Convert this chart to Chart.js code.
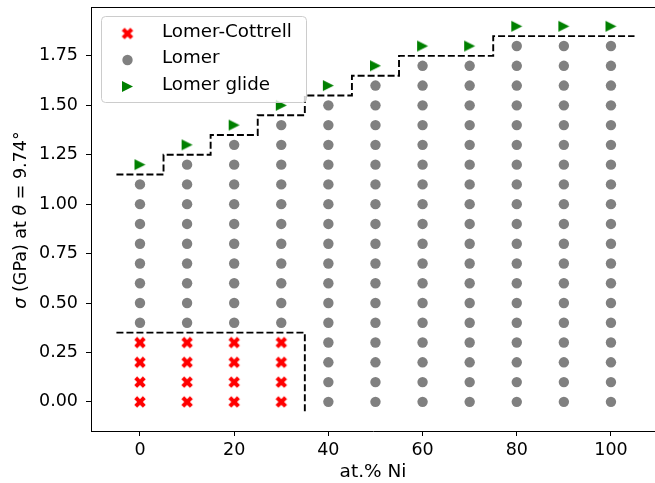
<!DOCTYPE html>
<html><head><meta charset="utf-8">
<script src="https://cdn.jsdelivr.net/npm/chart.js@4/dist/chart.umd.min.js"></script>
<style>html,body{margin:0;padding:0;background:#fff;overflow:hidden;}
#wrap{width:655px;height:483px;}
canvas{display:block;}
</style></head><body>
<div id="wrap"><canvas id="c" width="655" height="483"></canvas></div>
<script>
// ---- data ----
const niPct = [0, 10, 20, 30, 40, 50, 60, 70, 80, 90, 100];
const sigmaLevels = [0, 0.1, 0.2, 0.3, 0.4, 0.5, 0.6, 0.7, 0.8, 0.9, 1.0, 1.1, 1.2, 1.3, 1.4, 1.5, 1.6, 1.7, 1.8, 1.9];
const lcMax = [0.3, 0.3, 0.3, 0.3, null, null, null, null, null, null, null];
const lomerMin = [0.4, 0.4, 0.4, 0.4, 0, 0, 0, 0, 0, 0, 0];
const lomerMax = [1.1, 1.2, 1.3, 1.4, 1.5, 1.6, 1.7, 1.7, 1.8, 1.8, 1.8];
const glideSigma = [1.2, 1.3, 1.4, 1.5, 1.6, 1.7, 1.8, 1.8, 1.9, 1.9, 1.9];
const upperEdges = [-5, 5, 15, 25, 35, 45, 55, 75, 105];
const upperLevels = [1.15, 1.25, 1.35, 1.45, 1.55, 1.65, 1.75, 1.85];
const lowerX = [-5, 35, 35];
const lowerY = [0.35, 0.35, -0.05];
const xTicks = [0, 20, 40, 60, 80, 100];
const yTicks = [0, 0.25, 0.5, 0.75, 1.0, 1.25, 1.5, 1.75];
const seriesNames = ['Lomer-Cottrell', 'Lomer', 'Lomer glide'];

// ---- build points ----
const eps = 1e-9;
const lcPts = [], lomerPts = [], glidePts = [];
niPct.forEach((x, i) => {
  sigmaLevels.forEach(s => {
    if (lcMax[i] !== null && s <= lcMax[i] + eps) lcPts.push({x, y: s});
    if (s >= lomerMin[i] - eps && s <= lomerMax[i] + eps) lomerPts.push({x, y: s});
  });
  glidePts.push({x, y: glideSigma[i]});
});
const upperPts = [];
upperLevels.forEach((lv, i) => {
  upperPts.push({x: upperEdges[i], y: lv});
  upperPts.push({x: upperEdges[i + 1], y: lv});
});
const lowerPts = lowerX.map((x, i) => ({x, y: lowerY[i]}));

// ---- marker images ----
function makeMarker(kind, size, color) {
  const s = Math.ceil(size) + 2;
  const c = document.createElement('canvas');
  c.width = s; c.height = s;
  const g = c.getContext('2d');
  g.translate(s / 2, s / 2);
  const h = size / 2;
  let pts;
  if (kind === 'X') {
    pts = [[-0.5,-1],[0,-0.5],[0.5,-1],[1,-0.5],[0.5,0],[1,0.5],[0.5,1],[0,0.5],[-0.5,1],[-1,0.5],[-0.5,0],[-1,-0.5]];
  } else {
    pts = [[-1,-1],[1,0],[-1,1]];
  }
  g.beginPath();
  pts.forEach((p, i) => { if (i) g.lineTo(p[0]*h, p[1]*h); else g.moveTo(p[0]*h, p[1]*h); });
  g.closePath();
  g.fillStyle = color;
  g.fill();
  return c;
}
const xMarker = makeMarker('X', 11.5, '#ff0000');
const triMarker = makeMarker('T', 11, '#008000');

const FONT = 'DejaVu Sans';
const FS = 17.5;
const LEG_FS = 18.3;
const TITLE_FS = 18.5;

const frameLegendPlugin = {
  id: 'frameLegend',
  afterDraw(chart) {
    const ctx = chart.ctx;
    const a = chart.chartArea;
    ctx.save();
    // top spine
    ctx.strokeStyle = '#000';
    ctx.lineWidth = 1;
    ctx.beginPath();
    const ty = Math.round(a.top) + 0.5;
    ctx.moveTo(a.left, ty); ctx.lineTo(a.right, ty);
    ctx.stroke();
    // legend box
    const bx = a.left + 10.5, by = a.top + 9.5, bw = 205, bh = 86, r = 4;
    ctx.beginPath();
    ctx.moveTo(bx + r, by);
    ctx.arcTo(bx + bw, by, bx + bw, by + bh, r);
    ctx.arcTo(bx + bw, by + bh, bx, by + bh, r);
    ctx.arcTo(bx, by + bh, bx, by, r);
    ctx.arcTo(bx, by, bx + bw, by, r);
    ctx.closePath();
    ctx.fillStyle = 'rgba(255,255,255,0.8)';
    ctx.fill();
    ctx.strokeStyle = '#cccccc';
    ctx.stroke();
    const rowsY = [a.top + 25, a.top + 51.5, a.top + 78];
    ctx.font = LEG_FS + 'px "' + FONT + '"';
    ctx.fillStyle = '#000';
    ctx.textBaseline = 'middle';
    ctx.textAlign = 'left';
    for (let i = 0; i < 3; i++) {
      const ds = chart.data.datasets[i];
      if (ds.pointStyle === 'circle') {
        ctx.beginPath();
        ctx.arc(a.left + 36.5, rowsY[i] + 1.5, ds.pointRadius, 0, Math.PI * 2);
        ctx.fillStyle = ds.backgroundColor;
        ctx.fill();
        ctx.fillStyle = '#000';
      } else {
        Chart.helpers.drawPoint(ctx, {
          pointStyle: ds.pointStyle, radius: ds.pointRadius, rotation: 0, borderWidth: 0
        }, a.left + 36.5, rowsY[i] + 1.5);
      }
      ctx.fillText(seriesNames[i], a.left + 71, rowsY[i]);
    }
    // y-axis label with italic math symbols
    const segs = [
      {t: '\u03C3', it: true}, {t: ' (GPa) at ', it: false}, {t: '\u03B8', it: true},
      {t: ' = 9.74\u00B0', it: false}
    ];
    let total = 0;
    segs.forEach(s => {
      ctx.font = (s.it ? 'italic ' : '') + FS + 'px "' + FONT + '"';
      s.w = ctx.measureText(s.t).width; total += s.w;
    });
    ctx.fillStyle = '#000';
    ctx.translate(26, 220);
    ctx.rotate(-Math.PI / 2);
    ctx.textBaseline = 'alphabetic';
    let cx = -total / 2;
    segs.forEach(s => {
      ctx.font = (s.it ? 'italic ' : '') + FS + 'px "' + FONT + '"';
      ctx.fillText(s.t, cx, 0);
      cx += s.w;
    });
    ctx.restore();
  }
};

new Chart(document.getElementById('c'), {
  type: 'scatter',
  data: {
    datasets: [
      {label: seriesNames[0], data: lcPts, pointStyle: xMarker, pointRadius: 5.5, pointHoverRadius: 5.5, backgroundColor: '#ff0000', borderWidth: 0},
      {label: seriesNames[1], data: lomerPts, pointStyle: 'circle', pointRadius: 5.2, pointHoverRadius: 5.2, backgroundColor: '#808080', borderWidth: 0, pointBorderWidth: 0},
      {label: seriesNames[2], data: glidePts, pointStyle: triMarker, pointRadius: 5.5, pointHoverRadius: 5.5, backgroundColor: '#008000', borderWidth: 0},
      {label: 'upper', data: upperPts, showLine: true, pointRadius: 0, borderColor: '#000', borderWidth: 1.9, borderDash: [7, 3], fill: false},
      {label: 'lower', data: lowerPts, showLine: true, pointRadius: 0, borderColor: '#000', borderWidth: 1.9, borderDash: [7, 3], fill: false}
    ]
  },
  options: {
    responsive: false,
    animation: false,
    devicePixelRatio: 1,
    layout: {autoPadding: false, padding: {left: 0, top: 7, right: 0, bottom: 0}},
    plugins: {legend: {display: false}, tooltip: {enabled: false}},
    scales: {
      x: {
        type: 'linear', min: -10.4, max: 109.35,
        afterBuildTicks: s => { s.ticks = xTicks.map(v => ({value: v})); },
        afterFit: s => { s.height = 52; s.paddingLeft = 0; s.paddingRight = 0; s.paddingTop = 0; s.paddingBottom = 0; },
        grid: {drawOnChartArea: false, drawTicks: true, tickLength: 5, color: '#000', lineWidth: 1},
        border: {display: true, color: '#000', width: 1},
        ticks: {font: {family: FONT, size: FS}, color: '#000', padding: 4, maxRotation: 0, autoSkip: false, callback: v => String(v)},
        title: {display: true, text: 'at.% Ni', font: {family: FONT, size: TITLE_FS}, color: '#000', padding: {top: 0, bottom: 0}}
      },
      y: {
        type: 'linear', min: -0.1475, max: 1.9975,
        afterBuildTicks: s => { s.ticks = yTicks.map(v => ({value: v})); },
        afterFit: s => { s.width = 91; s.paddingLeft = 0; s.paddingRight = 0; s.paddingTop = 0; s.paddingBottom = 0; },
        grid: {drawOnChartArea: false, drawTicks: true, tickLength: 5, color: '#000', lineWidth: 1},
        border: {display: true, color: '#000', width: 1},
        ticks: {font: {family: FONT, size: FS}, color: '#000', padding: 8, autoSkip: false, callback: v => v.toFixed(2)}
      }
    }
  },
  plugins: [frameLegendPlugin]
});
</script>
</body></html>
